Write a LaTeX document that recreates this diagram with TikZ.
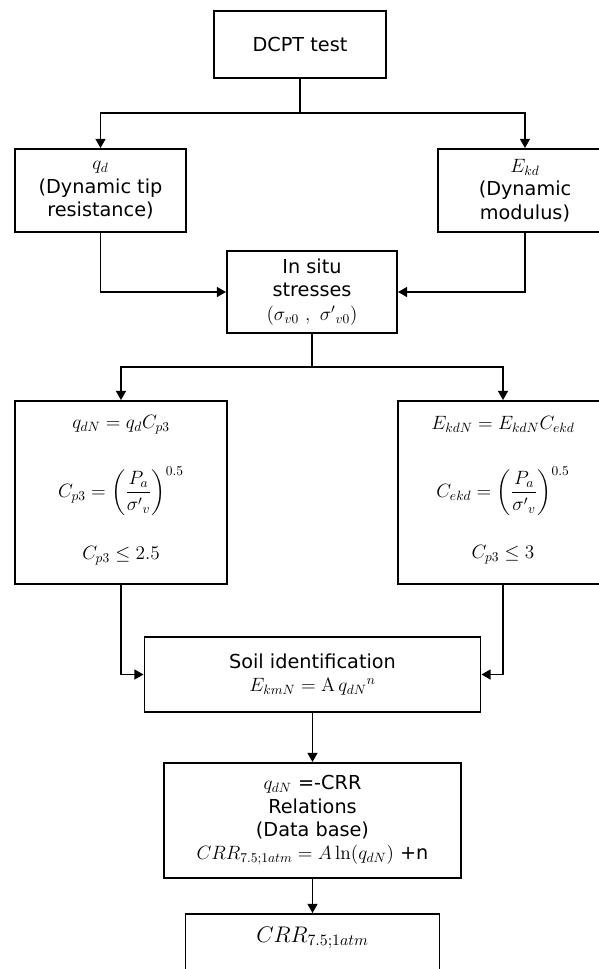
\RequirePackage{fix-cm}
\documentclass[tikz,border=0pt]{standalone}
\usepackage{amsmath}
\usepackage[no-math]{fontspec}
\setmainfont{DejaVu Sans}
\usetikzlibrary{arrows.meta}

\tikzset{
  flowbox/.style={draw=black,line width=1.4pt,align=center,inner sep=2pt},
  flowline/.style={line width=1.4pt},
  flowarrow/.style={line width=1.4pt,-{Triangle[length=7pt,width=7.5pt]}},
}

\begin{document}
\begin{tikzpicture}[font=\fontsize{14.5}{17.6}\selectfont]
\useasboundingbox (0,0) rectangle (15.848,-25.638);
\clip (0,0) rectangle (15.848,-25.638);
% first row
\node[flowbox,minimum width=4.551cm,minimum height=1.773cm] (dcpt) at (7.937,-1.177) {DCPT test};
\node[flowbox,minimum width=4.524cm,minimum height=2.196cm] (qd) at (2.659,-5.040) {$q_d$\\(Dynamic tip\\resistance)};
\node[flowbox,minimum width=4.604cm,minimum height=2.196cm] (ekd) at (13.890,-5.040) {$E_{kd}$\\(Dynamic\\modulus)};
\node[flowbox,minimum width=4.498cm,minimum height=2.170cm] (insitu) at (8.255,-7.726) {In situ\\stresses\\$(\sigma_{v0}\ ,\ {\sigma'}_{v0})$};
\coordinate (split1) at (7.937,-2.990);
\coordinate (split2) at (8.255,-9.710);
% normalisation boxes
\node[flowbox,minimum width=5.609cm,minimum height=4.842cm] (qdn) at (3.201,-13.031) {};
\node (qdnA) at (3.201,-11.245) {$q_{dN}=q_dC_{p3}$};
\node (qdnB) at (3.201,-12.991) {$C_{p3}=\left(\dfrac{P_a}{{\sigma'}_v}\right)^{0.5}$};
\node (qdnC) at (3.201,-14.711) {$C_{p3}\leq 2.5$};
\node[flowbox,minimum width=5.556cm,minimum height=4.842cm] (ekdn) at (13.308,-13.031) {};
\node (ekdnA) at (13.308,-11.218) {$E_{kdN}=E_{kdN}C_{ekd}$};
\node (ekdnB) at (13.308,-12.991) {$C_{ekd}=\left(\dfrac{P_a}{{\sigma'}_v}\right)^{0.5}$};
\node (ekdnC) at (13.308,-14.685) {$C_{p3}\leq 3$};
% lower chain
\node[flowbox,minimum width=8.890cm,minimum height=1.984cm] (soil) at (8.268,-17.846) {Soil identification\\$E_{kmN}=\mathrm{A}\,{q_{dN}}^{n}$};
\node[flowbox,minimum width=7.858cm,minimum height=3.043cm] (crr) at (8.268,-21.709) {$q_{dN}$ =-CRR\\Relations\\(Data base)\\$CRR_{7.5;1atm}=A\ln(q_{dN})$ +n};
\node[flowbox,minimum width=6.720cm,minimum height=1.905cm] (out) at (8.268,-25.135) {};
\node[font=\fontsize{17}{20}\selectfont] (outtxt) at (8.268,-24.818) {$CRR_{7.5;1atm}$};
% connectors
\draw[flowline] (dcpt.south) -- (split1);
\draw[flowarrow] (split1) -| (qd.north);
\draw[flowarrow] (split1) -| (ekd.north);
\draw[flowarrow] (qd.south) |- (insitu.west);
\draw[flowarrow] (ekd.south) |- (insitu.east);
\draw[flowline] (insitu.south) -- (split2);
\draw[flowarrow] (split2) -| (qdn.north);
\draw[flowarrow] (split2) -| (ekdn.north);
\draw[flowarrow] (qdn.south) |- (soil.west);
\draw[flowarrow] (ekdn.south) |- (soil.east);
\draw[flowarrow] (soil.south) -- (crr.north);
\draw[flowarrow] (crr.south) -- (out.north);
\end{tikzpicture}
\end{document}
